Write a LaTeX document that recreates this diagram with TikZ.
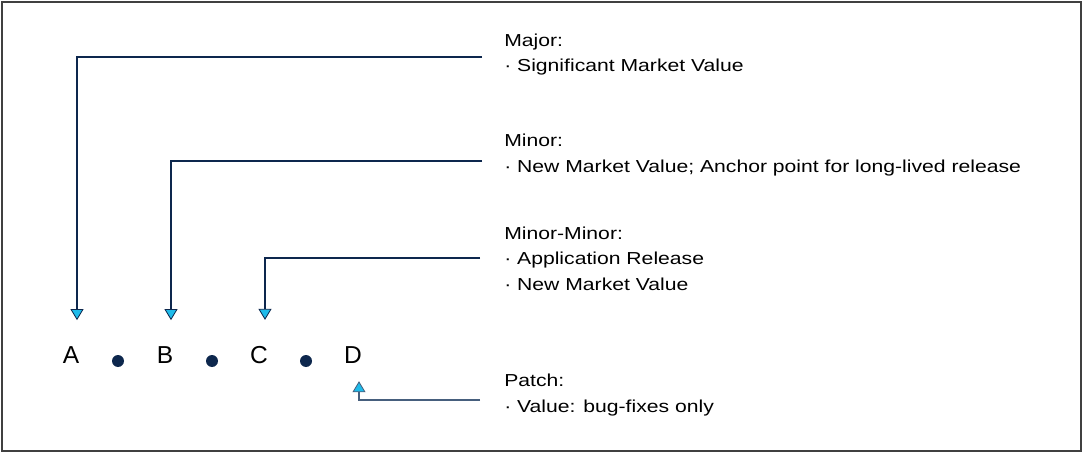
\documentclass[tikz,border=0pt]{standalone}
\usepackage{fontspec}
\setmainfont{Liberation Sans}
\newfontfamily\notefont{Liberation Sans}[FakeStretch=1.22]
\usetikzlibrary{arrows.meta, positioning, calc}
\definecolor{framegray}{RGB}{64, 64, 64}
\definecolor{navyblue}{RGB}{13, 39, 77}
\definecolor{slateblue}{RGB}{70, 95, 125}
\definecolor{tipcyan}{RGB}{30, 187, 234}
\tikzstyle{version} = [inner sep=0pt, font=\fontsize{18.4}{22}\selectfont]
\tikzstyle{sepdot} = [circle, fill=navyblue, inner sep=0pt, minimum size=9pt]
\tikzstyle{note} = [anchor=base west, inner sep=0pt, align=left, font=\notefont\fontsize{13}{19.1}\selectfont]
\tikzstyle{link} = [navyblue, line width=1.5pt, -{Triangle[width=9.75pt, length=8.25pt, line width=0.6pt, fill=tipcyan]}]
\tikzstyle{patchlink} = [slateblue, line width=0.8pt, -{Triangle[width=9.75pt, length=8.25pt, line width=0.6pt, fill=tipcyan]}]

\begin{document}
\begin{tikzpicture}[x=0.75pt, y=-0.75pt, node distance=70.5pt]
\useasboundingbox (0,0) rectangle (1083,453);

% Frame
\draw [framegray, line width=1.1pt] (2,2) rectangle (1081,451);

% Version parts
\node (A) [version] at (71,355.5) {A};
\node (B) [version, right of=A] {B};
\node (C) [version, right of=B] {C};
\node (D) [version, right of=C] {D};

% Separators
\node (dotAB) [sepdot] at ($(A)!0.5!(B)+(0,5.5)$) {};
\node (dotBC) [sepdot] at ($(B)!0.5!(C)+(0,5.5)$) {};
\node (dotCD) [sepdot] at ($(C)!0.5!(D)+(0,5.5)$) {};

% Notes (placed at the baseline of their last line)
\node (major) [note] at (504,72) {Major:\\· Significant Market Value};
\node (minor) [note] at (504,172) {Minor:\\· New Market Value; Anchor point for long-lived release};
\node (minorminor) [note] at (504,290) {Minor-Minor:\\· Application Release\\· New Market Value};
\node (patch) [note] at (504,412) {Patch:\\· Value: bug-fixes only};

% Connectors
\coordinate (majorEnd) at (482,57);
\coordinate (minorEnd) at (482,161);
\coordinate (minorminorEnd) at (480,258);
\coordinate (patchEnd) at (480,400);

\draw [link] (majorEnd) -| ([xshift=4.5pt, yshift=20pt]A.north);
\draw [link] (minorEnd) -| ([xshift=4.5pt, yshift=20pt]B.north);
\draw [link] (minorminorEnd) -| ([xshift=4.5pt, yshift=20pt]C.north);
\draw [patchlink] (patchEnd) -| ([xshift=4.5pt, yshift=-12.75pt]D.south);

\end{tikzpicture}
\end{document}
